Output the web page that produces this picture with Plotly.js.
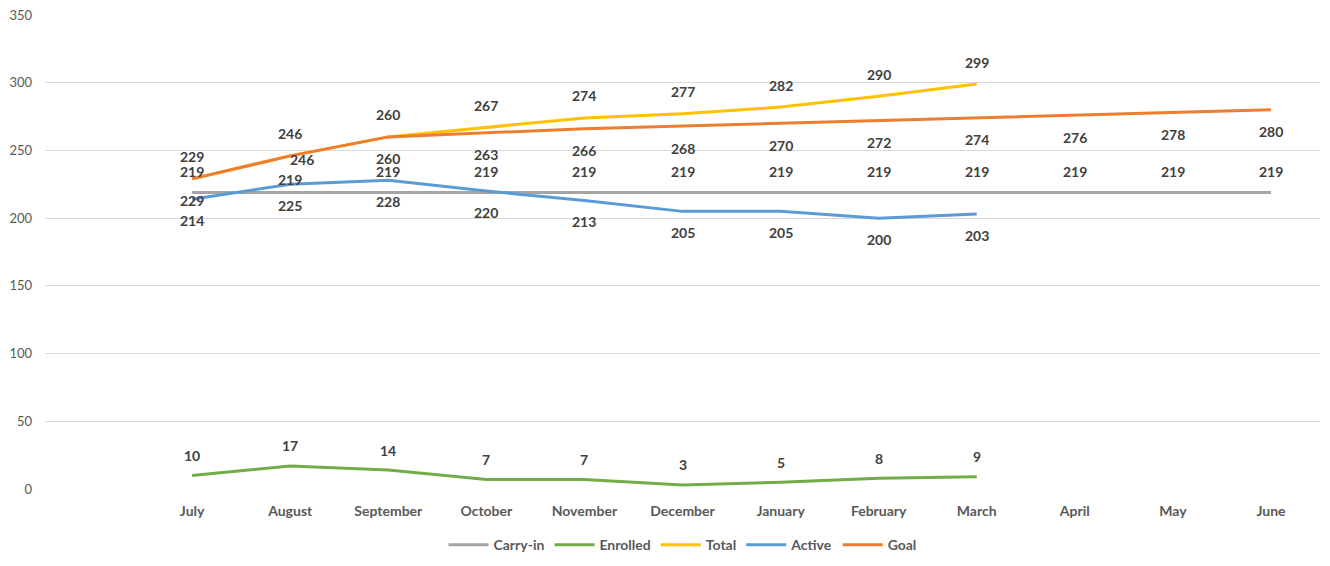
<!DOCTYPE html>
<html>
<head>
<meta charset="utf-8">
<script src="https://cdn.plot.ly/plotly-3.0.1.min.js"></script>
<style>html,body{margin:0;padding:0;background:#fff;}#chart{width:1330px;height:566px;}</style>
</head>
<body>
<div id="chart"></div>
<script>
const months = ["July","August","September","October","November","December","January","February","March","April","May","June"];
const carryIn = [219,219,219,219,219,219,219,219,219,219,219,219];
const enrolled = [10,17,14,7,7,3,5,8,9];
const total = [229,246,260,267,274,277,282,290,299];
const active = [214,225,228,220,213,205,205,200,203];
const goal = [229,246,260,263,266,268,270,272,274,276,278,280];

const FONT = "Lato, 'Open Sans', sans-serif";
const series = [
  {name:"Carry-in", y:carryIn, color:"#a5a5a5", shift:21},
  {name:"Enrolled", y:enrolled, color:"#70ad47", shift:20},
  {name:"Total", y:total, color:"#ffc000", shift:22},
  {name:"Active", y:active, color:"#5b9bd5", shift:-21},
  {name:"Goal", y:goal, color:"#ed7d31", shift:-22}
];
// small manual label nudges seen in the reference
const nudges = {"Carry-in|1":{yshift:13}, "Goal|1":{yshift:-4, xshift:12}};

const traces = series.map(s => ({
  type:"scatter", mode:"lines", name:s.name,
  x: months.slice(0, s.y.length), y: s.y,
  line:{color:s.color, width:3}, hoverinfo:"skip"
}));

const annotations = [];
series.forEach(s => {
  s.y.forEach((v,i) => {
    const n = nudges[s.name+"|"+i] || {};
    annotations.push({
      x: months[i], y: v, xref:"x", yref:"y", text: String(v), showarrow:false,
      yshift: n.yshift !== undefined ? n.yshift : s.shift, xshift: n.xshift || 0,
      font:{family:FONT, size:14, color:"#404040", weight:"bold"}
    });
  });
});

const layout = {
  width:1330, height:566,
  margin:{l:45, r:10, t:15, b:77, autoexpand:false},
  paper_bgcolor:"#fff", plot_bgcolor:"#fff",
  showlegend:true,
  legend:{orientation:"h", x:0.5, xanchor:"center", yref:"container", y:0.037, yanchor:"middle",
    font:{family:FONT, size:14, color:"#595959", weight:"bold"}, itemwidth:40, tracegroupgap:0},
  xaxis:{type:"category", categoryarray:months, categoryorder:"array", range:[-1.5, 11.5],
    showgrid:false, zeroline:false, showline:false, ticks:"", ticklabelstandoff:12,
    tickfont:{family:FONT, size:14, color:"#595959", weight:"bold"}},
  yaxis:{range:[0,350], dtick:50, tick0:0, showgrid:true, gridcolor:"#d9d9d9", gridwidth:1,
    zeroline:false, showline:false, ticks:"", ticklabelstandoff:12,
    tickfont:{family:FONT, size:13, color:"#595959"}},
  annotations: annotations
};
Plotly.newPlot("chart", traces, layout, {displayModeBar:false, staticPlot:true});
</script>
</body>
</html>
